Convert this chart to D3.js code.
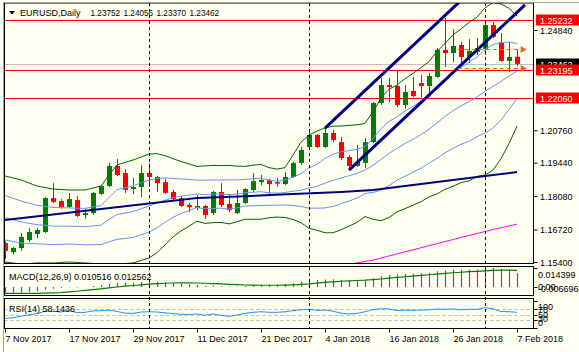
<!DOCTYPE html>
<html>
<head>
<meta charset="utf-8">
<script src="https://cdn.jsdelivr.net/npm/d3@7"></script>
<style>
	html, body { margin: 0; padding: 0; background: #fffff0; }
	svg { display: block; font-family: "Liberation Sans", Arial, sans-serif; }
</style>
</head>
<body>
<svg id="chart" width="579" height="352"></svg>
<script>

// ---- data ----

const dates = [
	'2017-11-07','2017-11-08','2017-11-09','2017-11-10','2017-11-13','2017-11-14','2017-11-15','2017-11-16','2017-11-17',
	'2017-11-20','2017-11-21','2017-11-22','2017-11-23','2017-11-24','2017-11-27','2017-11-28','2017-11-29','2017-11-30',
	'2017-12-01','2017-12-04','2017-12-05','2017-12-06','2017-12-07','2017-12-08','2017-12-11','2017-12-12','2017-12-13',
	'2017-12-14','2017-12-15','2017-12-18','2017-12-19','2017-12-20','2017-12-21','2017-12-22','2017-12-26','2017-12-27',
	'2017-12-28','2017-12-29','2018-01-02','2018-01-03','2018-01-04','2018-01-05','2018-01-08','2018-01-09','2018-01-10',
	'2018-01-11','2018-01-12','2018-01-15','2018-01-16','2018-01-17','2018-01-18','2018-01-19','2018-01-22','2018-01-23',
	'2018-01-24','2018-01-25','2018-01-26','2018-01-29','2018-01-30','2018-01-31','2018-02-01','2018-02-02','2018-02-05',
	'2018-02-06','2018-02-07'
];

const opens = [
	1.1617,1.1580,1.1597,1.1629,1.1654,1.1662,1.1800,1.1788,1.1764,1.1792,1.1731,1.1739,1.1817,1.1849,1.1931,1.1902,1.1837,1.1845,
	1.1902,1.1886,1.1865,1.1825,1.1800,1.1772,1.1760,1.1768,1.1739,1.1825,1.1776,1.1739,1.1780,1.1833,1.1865,1.1874,1.1865,1.1857,
	1.1886,1.1943,1.2008,1.2057,1.2008,1.2065,1.2028,1.1967,1.1931,1.1943,1.2028,1.2187,1.2260,1.2256,1.2179,1.2236,1.2268,1.2256,
	1.2293,1.2403,1.2390,1.2423,1.2374,1.2395,1.2407,1.2504,1.2435,1.2358,1.23752
];
const highs = [
	1.1625,1.1601,1.1658,1.1678,1.1678,1.1804,1.1861,1.1796,1.1821,1.1808,1.1756,1.1825,1.1853,1.1943,1.1959,1.1918,1.1882,1.1935,
	1.1943,1.1890,1.1878,1.1833,1.1808,1.1780,1.1813,1.1772,1.1829,1.1861,1.1813,1.1833,1.1841,1.1902,1.1894,1.1878,1.1882,1.1906,
	1.1947,1.2008,1.2077,1.2061,1.2085,1.2077,1.2049,1.1975,1.2016,1.2044,1.2191,1.2289,1.2289,1.2321,1.2260,1.2293,1.2301,1.2309,
	1.2411,1.2533,1.2488,1.2435,1.2447,1.2451,1.2513,1.2517,1.2472,1.2435,1.24056
];
const lows = [
	1.1552,1.1572,1.1585,1.1621,1.1637,1.1658,1.1780,1.1756,1.1760,1.1723,1.1715,1.1731,1.1813,1.1845,1.1890,1.1821,1.1817,1.1804,
	1.1845,1.1825,1.1817,1.1788,1.1764,1.1743,1.1751,1.1715,1.1731,1.1764,1.1743,1.1735,1.1776,1.1825,1.1853,1.1817,1.1845,1.1853,
	1.1882,1.1935,1.2000,1.2004,1.2004,1.2028,1.1955,1.1914,1.1927,1.1922,1.2024,1.2179,1.2191,1.2171,1.2163,1.2211,1.2211,1.2211,
	1.2289,1.2333,1.2354,1.2346,1.2350,1.2382,1.2382,1.2451,1.2354,1.2313,1.23370
];
const closes = [
	1.1585,1.1597,1.1642,1.1662,1.1670,1.1800,1.1784,1.1764,1.1796,1.1727,1.1739,1.1821,1.1849,1.1931,1.1894,1.1833,1.1845,1.1902,
	1.1886,1.1861,1.1821,1.1796,1.1768,1.1764,1.1768,1.1731,1.1825,1.1772,1.1751,1.1780,1.1837,1.1869,1.1874,1.1857,1.1861,1.1886,
	1.1943,1.1996,1.2057,1.2008,1.2065,1.2036,1.1963,1.1931,1.1947,1.2028,1.2187,1.2260,1.2252,1.2179,1.2232,1.2215,1.2256,1.2297,
	1.2403,1.2390,1.2419,1.2374,1.2399,1.2411,1.2504,1.2456,1.2358,1.2374,1.23462
];

// Bollinger 20/2 (dark green) and 20/1 (light blue), [bar index, price]
const bbUpper2 = [[0,1.1890],[2,1.1874],[4,1.1849],[6,1.1837],[8,1.1833],[10,1.1833],[12,1.1849],[13,1.1894],[14,1.1935],
	[16,1.1955],[18,1.1979],[19,1.1981],[20,1.1973],[21,1.1960],[22,1.1949],[23,1.1939],[24,1.1929],[25,1.1931],[26,1.1933],
	[27,1.1932],[28,1.1933],[29,1.1930],[30,1.1929],[31,1.1934],[32,1.1937],[33,1.1924],[34,1.1918],[35,1.1924],[36,1.1975],
	[37,1.2028],[38,1.2057],[39,1.2073],[40,1.2085],[41,1.2093],[42,1.2093],[43,1.2096],[44,1.2098],[45,1.2104],[46,1.2152],
	[47,1.2206],[48,1.2243],[49,1.2260],[50,1.2286],[51,1.2307],[52,1.2331],[53,1.2355],[54,1.2397],[55,1.2429],[56,1.2464],
	[57,1.2488],[58,1.2515],[59,1.2536],[60,1.2574],[61,1.2596],[62,1.2590],[63,1.2572],[64,1.2541]];
const bbLower2 = [[0,1.1540],[2,1.1532],[4,1.1536],[6,1.1536],[8,1.1540],[10,1.1536],[12,1.1532],[14,1.1532],[16,1.1536],
	[18,1.1556],[19,1.1578],[20,1.1610],[21,1.1642],[22,1.1666],[23,1.1686],[24,1.1706],[25,1.1697],[26,1.1700],[27,1.1701],
	[28,1.1695],[29,1.1704],[30,1.1714],[31,1.1714],[32,1.1714],[33,1.1720],[34,1.1723],[35,1.1721],[36,1.1713],[37,1.1700],
	[38,1.1677],[39,1.1669],[40,1.1659],[41,1.1659],[42,1.1671],[43,1.1686],[44,1.1701],[45,1.1725],[46,1.1714],[47,1.1708],
	[48,1.1721],[49,1.1744],[50,1.1757],[51,1.1771],[52,1.1785],[53,1.1805],[54,1.1817],[55,1.1836],[56,1.1848],[57,1.1863],
	[58,1.1870],[59,1.1888],[60,1.1894],[61,1.1914],[62,1.1960],[63,1.2022],[64,1.2093]];
const bbUpper1 = [[0,1.1811],[2,1.1788],[4,1.1771],[6,1.1762],[8,1.1760],[10,1.1758],[12,1.1770],[13,1.1803],[14,1.1834],
	[16,1.1850],[18,1.1874],[19,1.1880],[20,1.1882],[21,1.1880],[22,1.1878],[23,1.1876],[24,1.1873],[25,1.1873],[26,1.1874],
	[27,1.1874],[28,1.1874],[29,1.1874],[30,1.1876],[31,1.1879],[32,1.1881],[33,1.1873],[34,1.1869],[35,1.1874],[36,1.1885],
	[37,1.1899],[38,1.1923],[39,1.1938],[40,1.1961],[41,1.1979],[42,1.1988],[43,1.1993],[44,1.1999],[45,1.2009],[46,1.2042],
	[47,1.2082],[48,1.2112],[49,1.2131],[50,1.2154],[51,1.2173],[52,1.2194],[53,1.2217],[54,1.2252],[55,1.2281],[56,1.2310],
	[57,1.2331],[58,1.2354],[59,1.2374],[60,1.2404],[61,1.2425],[62,1.2432],[63,1.2435],[64,1.2429]];
const bbMiddle = [[0,1.1721],[2,1.1703],[4,1.1692],[6,1.1686],[8,1.1686],[10,1.1684],[12,1.1690],[13,1.1713],[14,1.1733],
	[16,1.1745],[18,1.1768],[19,1.1780],[20,1.1791],[21,1.1801],[22,1.1808],[23,1.1812],[24,1.1817],[25,1.1814],[26,1.1816],
	[27,1.1817],[28,1.1814],[29,1.1817],[30,1.1822],[31,1.1824],[32,1.1826],[33,1.1822],[34,1.1820],[35,1.1823],[36,1.1828],
	[37,1.1832],[38,1.1841],[39,1.1848],[40,1.1861],[41,1.1872],[42,1.1882],[43,1.1891],[44,1.1900],[45,1.1914],[46,1.1933],
	[47,1.1957],[48,1.1982],[49,1.2002],[50,1.2022],[51,1.2039],[52,1.2058],[53,1.2080],[54,1.2106],[55,1.2132],[56,1.2156],
	[57,1.2175],[58,1.2192],[59,1.2212],[60,1.2234],[61,1.2255],[62,1.2275],[63,1.2297],[64,1.2317]];
const bbLower1 = [[0,1.1630],[2,1.1617],[4,1.1614],[6,1.1611],[8,1.1613],[10,1.1610],[12,1.1611],[13,1.1622],[14,1.1632],
	[16,1.1640],[18,1.1662],[19,1.1679],[20,1.1701],[21,1.1722],[22,1.1737],[23,1.1749],[24,1.1762],[25,1.1756],[26,1.1758],
	[27,1.1759],[28,1.1755],[29,1.1760],[30,1.1768],[31,1.1769],[32,1.1770],[33,1.1771],[34,1.1771],[35,1.1772],[36,1.1770],
	[37,1.1766],[38,1.1759],[39,1.1759],[40,1.1760],[41,1.1766],[42,1.1777],[43,1.1788],[44,1.1800],[45,1.1819],[46,1.1823],
	[47,1.1832],[48,1.1851],[49,1.1873],[50,1.1889],[51,1.1905],[52,1.1922],[53,1.1942],[54,1.1962],[55,1.1984],[56,1.2002],
	[57,1.2019],[58,1.2031],[59,1.2050],[60,1.2064],[61,1.2085],[62,1.2117],[63,1.2160],[64,1.2205]];
const ma100 = [[0,1.1711],[12,1.1756],[24,1.1800],[30,1.1808],[36,1.1817],[42,1.1825],[46,1.1833],[52,1.1857],[58,1.1882],
	[61,1.1894],[64,1.1906]];
const ma200 = [[36,1.1491],[40,1.1515],[43,1.1530],[46,1.1548],[52,1.1598],[58,1.1648],[61,1.1672],[64,1.1694]];

// hand drawn channel, two anchor points each
const channelLines = [[[40,1.2085],[58,1.2635]], [[43,1.1914],[65,1.2586]]];

const levelLines = [1.25232, 1.23195, 1.22060];
const bidPrice = 1.23462;
const arrowLevels = [1.24067, 1.23306];
const arrowStart = 56.6, arrowEnd = 65.2;

const priceTicks = [1.15400, 1.16720, 1.18080, 1.19440, 1.20760, 1.24840];
const dateTicks = ['2017-11-07','2017-11-17','2017-11-29','2017-12-11','2017-12-21','2018-01-04','2018-01-16','2018-01-26','2018-02-07'];
const separators = ['2017-12-01','2018-01-02','2018-02-01'];

const macdMain = [-0.0042,-0.0043,-0.0040,-0.0036,-0.0033,-0.0020,-0.0012,-0.0006,-0.0001,-0.0002,0.0001,0.0008,0.0015,0.0025,
	0.0031,0.0033,0.0035,0.0039,0.0041,0.0040,0.0037,0.0031,0.0025,0.0019,0.0016,0.0010,0.0012,0.0009,0.0005,0.0005,0.0009,
	0.0014,0.0017,0.0019,0.0020,0.0023,0.0030,0.0040,0.0050,0.0053,0.0058,0.0059,0.0055,0.0049,0.0046,0.0050,0.0066,0.0082,
	0.0093,0.0096,0.0100,0.0101,0.0104,0.0108,0.0119,0.0126,0.0130,0.0130,0.0131,0.0132,0.0140,0.0144,0.0137,0.0131,0.010516];
const macdSignal = [-0.0047,-0.0047,-0.0047,-0.0047,-0.0047,-0.0046,-0.0044,-0.0041,-0.0036,-0.0031,-0.0025,-0.0019,-0.0013,
	-0.0006,0.0001,0.0007,0.0012,0.0017,0.0022,0.0026,0.0029,0.0031,0.0032,0.0032,0.0031,0.0029,0.0027,0.0024,0.0021,0.0018,
	0.0016,0.0015,0.0014,0.0014,0.0014,0.0015,0.0017,0.0020,0.0024,0.0030,0.0035,0.0040,0.0044,0.0047,0.0050,0.0052,0.0056,
	0.0061,0.0067,0.0073,0.0078,0.0083,0.0088,0.0093,0.0098,0.0103,0.0108,0.0112,0.0116,0.0119,0.0122,0.0126,0.0128,0.0128,0.012562];
const macdRange = [-0.006696, 0.014399];

const rsi = [36,38,44,49,53,62,62,59,64,57,58,63,64,66,61,55,54,59,60,59,56,53,51,50,52,47,52,47,43,48,54,58,60,58,58,60,
	64,67,69,65,66,62,55,52,54,60,68,71,70,64,66,65,66,67,70,69,70,67,69,69,75,71,61,60,58.1436];
const rsiLevels = [70, 50, 30];

// ---- layout ----

const svg = d3.select('#chart');
const plotL = 4.5, plotR = 533.5;
const panels = {
	main: [3, 263.5],
	macd: [266.5, 295.5],
	rsi: [298.5, 328.5]
};

const x = d3.scaleLinear().domain([0, 64]).range([5, 517]);
const y = d3.scaleLinear().domain([1.1540, 1.2484]).range([262, 30]);
const yM = d3.scaleLinear().domain(macdRange).range([296, 268]);
const yR = d3.scaleLinear().domain([0, 100]).range([328.25, 300.75]);

svg.append('rect').attr('width', 579).attr('height', 352).attr('fill', '#fffff0');

let defs = svg.append('defs');
Object.keys(panels).forEach(k => {
	defs.append('clipPath').attr('id', 'clip-' + k)
		.append('rect')
		.attr('x', plotL).attr('y', panels[k][0])
		.attr('width', plotR - plotL).attr('height', panels[k][1] - panels[k][0]);
});

const gMain = svg.append('g').attr('clip-path', 'url(#clip-main)');
const gMacd = svg.append('g').attr('clip-path', 'url(#clip-macd)');
const gRsi = svg.append('g').attr('clip-path', 'url(#clip-rsi)');

// month separators through all panels
separators.forEach(d => {
	let xi = Math.round(x(dates.indexOf(d))) + 0.5;
	svg.append('line')
		.attr('x1', xi).attr('x2', xi).attr('y1', panels.main[0]).attr('y2', panels.rsi[1])
		.attr('stroke', '#000').attr('stroke-dasharray', '3,3');
});

// horizontal objects
gMain.append('line')
	.attr('x1', plotL).attr('x2', plotR)
	.attr('y1', Math.round(y(bidPrice)) + 0.5).attr('y2', Math.round(y(bidPrice)) + 0.5)
	.attr('stroke', '#c0c0c0');

levelLines.forEach(v => {
	let yy = Math.round(y(v)) + 0.5;
	gMain.append('line')
		.attr('x1', plotL).attr('x2', plotR).attr('y1', yy).attr('y2', yy)
		.attr('stroke', '#ff0000').attr('stroke-width', 1.2);
});

// candles
let candles = gMain.selectAll('g.candle')
	.data(dates.map((d, i) => ({ i: i, o: opens[i], h: highs[i], l: lows[i], c: closes[i] })))
	.join('g')
	.attr('class', 'candle');

candles.append('line')
	.attr('x1', d => Math.round(x(d.i)) + 0.5)
	.attr('x2', d => Math.round(x(d.i)) + 0.5)
	.attr('y1', d => y(d.h))
	.attr('y2', d => y(d.l))
	.attr('stroke', d => d.c >= d.o ? '#008000' : '#ff0000');

candles.append('rect')
	.attr('x', d => Math.round(x(d.i)) - 2)
	.attr('width', 5)
	.attr('y', d => y(Math.max(d.o, d.c)))
	.attr('height', d => Math.max(1.5, Math.abs(y(d.o) - y(d.c))))
	.attr('fill', d => d.c >= d.o ? '#008000' : '#ff0000');

// indicator lines
const priceLine = d3.line().x(d => x(d[0])).y(d => y(d[1]));

[
	[bbUpper1, '#6495ed', 1],
	[bbMiddle, '#6495ed', 1],
	[bbLower1, '#6495ed', 1],
	[bbUpper2, '#006400', 1],
	[bbLower2, '#006400', 1],
	[ma200, '#ff00ff', 1],
	[ma100, '#000080', 2]
].forEach(s => {
	gMain.append('path')
		.attr('d', priceLine(s[0]))
		.attr('fill', 'none')
		.attr('stroke', s[1])
		.attr('stroke-width', s[2]);
});

channelLines.forEach(pts => {
	gMain.append('path')
		.attr('d', priceLine(pts))
		.attr('stroke', '#000080')
		.attr('stroke-width', 3);
});

// order arrows
arrowLevels.forEach(v => {
	let yy = Math.round(y(v)) + 0.5,
		x0 = x(arrowStart),
		x1 = x(arrowEnd);
	gMain.append('line')
		.attr('x1', x0).attr('x2', x1 - 5).attr('y1', yy).attr('y2', yy)
		.attr('stroke', '#f26522').attr('stroke-width', 1.2).attr('stroke-dasharray', '4,3');
	gMain.append('path')
		.attr('d', `M${x1 - 6},${yy - 3.5}L${x1},${yy}L${x1 - 6},${yy + 3.5}Z`)
		.attr('fill', '#f26522');
});

// MACD
gMacd.selectAll('line.hist')
	.data(macdMain)
	.join('line')
	.attr('class', 'hist')
	.attr('x1', (d, i) => Math.round(x(i)) + 0.5)
	.attr('x2', (d, i) => Math.round(x(i)) + 0.5)
	.attr('y1', yM(0))
	.attr('y2', d => yM(d))
	.attr('stroke', '#9932cc')
	.attr('stroke-width', 1.2);

gMacd.append('path')
	.attr('d', d3.line().x((d, i) => x(i)).y(d => yM(d))(macdSignal))
	.attr('fill', 'none')
	.attr('stroke', '#008000')
	.attr('stroke-width', 1.2);

// RSI
rsiLevels.forEach(v => {
	gRsi.append('line')
		.attr('x1', plotL).attr('x2', plotR)
		.attr('y1', Math.round(yR(v)) + 0.5).attr('y2', Math.round(yR(v)) + 0.5)
		.attr('stroke', '#b8b8b8').attr('stroke-dasharray', '3,3');
});

gRsi.append('path')
	.attr('d', d3.line().x((d, i) => x(i)).y(d => yR(d))(rsi))
	.attr('fill', 'none')
	.attr('stroke', '#1e90ff')
	.attr('stroke-width', 1);

// panel frames
const frame = svg.append('g').attr('stroke', '#000').attr('fill', 'none');
Object.keys(panels).forEach(k => {
	frame.append('rect')
		.attr('x', plotL).attr('y', panels[k][0])
		.attr('width', plotR - plotL).attr('height', panels[k][1] - panels[k][0]);
});
svg.append('line')
	.attr('x1', 3.5).attr('x2', 3.5).attr('y1', 3).attr('y2', 352)
	.attr('stroke', '#a0a0a0');
svg.append('line')
	.attr('x1', 3).attr('x2', 579).attr('y1', 2.5).attr('y2', 2.5)
	.attr('stroke', '#a0a0a0');

// price axis
const priceAxis = svg.append('g')
	.attr('transform', `translate(${plotR},0)`)
	.call(d3.axisRight(y).tickValues(priceTicks).tickSize(4).tickFormat(d3.format('.5f')));
priceAxis.select('.domain').remove();
priceAxis.selectAll('text').attr('x', 6.5).attr('dy', '0.35em').attr('font-size', 9).attr('font-family', null).attr('fill', '#000');

function priceTag(v, fill) {
	let yy = Math.round(y(v));
	svg.append('rect')
		.attr('x', 536).attr('y', yy - 5.5).attr('width', 43).attr('height', 11).attr('fill', fill);
	svg.append('text')
		.attr('x', 540).attr('y', yy + 3.5).attr('font-size', 9).attr('fill', '#fff')
		.text(v.toFixed(5));
}
priceTag(bidPrice, '#000');
levelLines.forEach(v => priceTag(v, '#ff0000'));

// MACD / RSI axis labels (they overlap in the original too)
const subAxis = svg.append('g').attr('font-size', 9);
[[macdRange[1], 277.5], [0, 290], [macdRange[0], 292]].forEach((t, i) => {
	subAxis.append('text').attr('x', 538).attr('y', t[1])
		.text(i === 1 ? '0.00' : (t[0] < 0 ? '-' : '') + Math.abs(t[0]).toFixed(6));
});
[[100, 310], [70, 313], [50, 318], [30, 322], [0, 326]].forEach(t => {
	subAxis.append('text').attr('x', 538).attr('y', t[1]).text(t[0]);
});
[yM(macdRange[1]), yM(0), yR(100), yR(70), yR(50), yR(30), yR(0)].forEach(v => {
	svg.append('line').attr('x1', plotR).attr('x2', plotR + 4)
		.attr('y1', Math.round(v) + 0.5).attr('y2', Math.round(v) + 0.5).attr('stroke', '#000');
});

// date axis
const fmt = d3.timeFormat('%-d %b %Y');
const dateAxis = svg.append('g')
	.attr('transform', `translate(0,${panels.rsi[1]})`)
	.call(d3.axisBottom(x)
		.tickValues(dateTicks.map(d => dates.indexOf(d)))
		.tickSize(4)
		.tickFormat(i => fmt(d3.timeParse('%Y-%m-%d')(dates[i]))));
dateAxis.select('.domain').remove();
dateAxis.selectAll('text')
	.attr('text-anchor', 'start')
	.attr('y', 13.5).attr('dy', null)
	.attr('font-size', 9).attr('font-family', null).attr('fill', '#000');

// panel titles
svg.append('path').attr('d', 'M9,11L15,11L12,14.5Z').attr('fill', '#000');
svg.append('text').attr('x', 20).attr('y', 16).attr('font-size', 9).text('EURUSD,Daily');
[opens[64], highs[64], lows[64], closes[64]].forEach((v, k) => {
	svg.append('text').attr('x', 90.5 + k * 33).attr('y', 16).attr('font-size', 8.2).text(v.toFixed(5));
});
svg.append('text').attr('x', 9).attr('y', 280).attr('font-size', 9)
	.text(`MACD(12,26,9) ${macdMain[64].toFixed(6)} ${macdSignal[64].toFixed(6)}`);
svg.append('text').attr('x', 9).attr('y', 312).attr('font-size', 9)
	.text(`RSI(14) ${rsi[64].toFixed(4)}`);

</script>
</body>
</html>
